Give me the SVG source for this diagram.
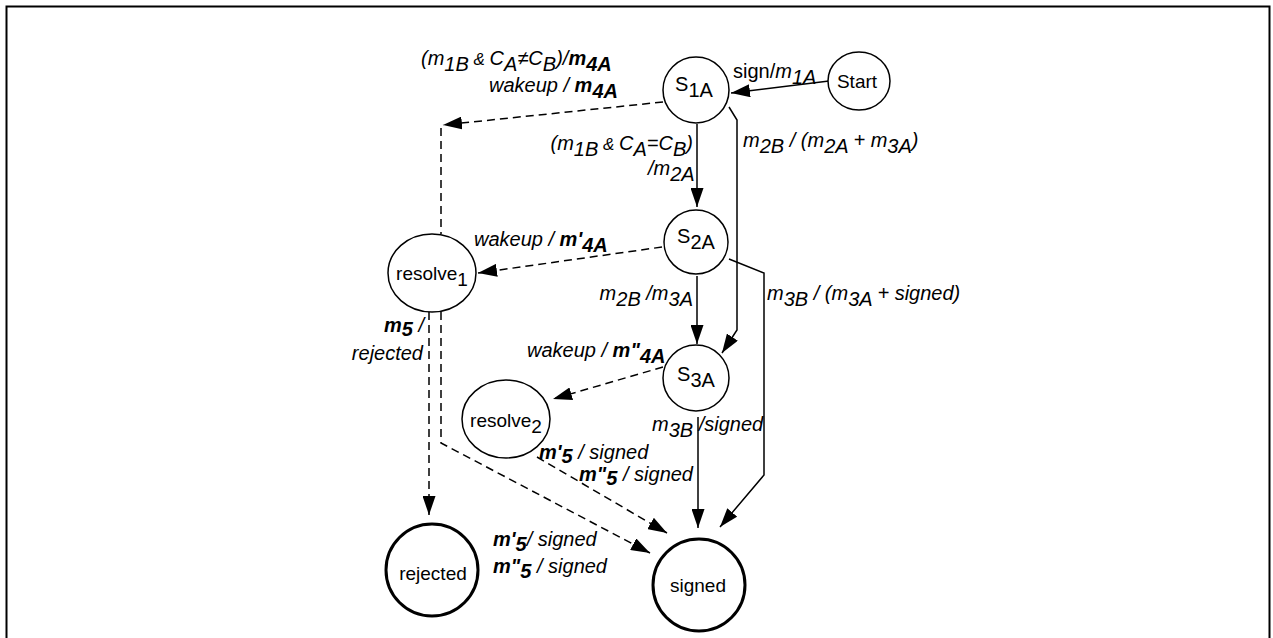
<svg xmlns="http://www.w3.org/2000/svg" width="1273" height="638" viewBox="0 0 1273 638">
<style>
text { font-family: "Liberation Sans", Arial, sans-serif; font-size: 20px; fill: #000; }
.nl { font-size: 19px; }
.it { font-style: italic; }
.b { font-weight: bold; }
.sm { font-size: 17px; }
.node { fill: #fff; stroke: #000; stroke-width: 1.5; }
.final { fill: #fff; stroke: #000; stroke-width: 3; }
.edge { fill: none; stroke: #000; stroke-width: 1.5; }
.dash { stroke-dasharray: 8 5; }
</style>
<defs>
<marker id="ah" markerWidth="19" markerHeight="13" refX="19" refY="6.5" orient="auto" markerUnits="userSpaceOnUse">
<path d="M0,0 L19,6.5 L0,13 z" fill="#000"/>
</marker>
</defs>
<rect x="6.5" y="6.5" width="1263" height="640" fill="#fff" stroke="#000" stroke-width="2"/>

<g id="connectors">
<line class="edge" x1="829" y1="81" x2="731" y2="93" marker-end="url(#ah)"/>
<line class="edge dash" x1="663" y1="102" x2="443" y2="125" marker-end="url(#ah)"/>
<line class="edge dash" x1="441" y1="128" x2="441" y2="234"/>
<line class="edge" x1="697" y1="124" x2="697" y2="207" marker-end="url(#ah)"/>
<polyline class="edge" points="729,107 737,120 737,330 722,353" marker-end="url(#ah)"/>
<line class="edge dash" x1="662" y1="247" x2="478" y2="273" marker-end="url(#ah)"/>
<line class="edge" x1="697" y1="276" x2="697" y2="344" marker-end="url(#ah)"/>
<polyline class="edge" points="729,259 764,273 764,475 720,527" marker-end="url(#ah)"/>
<line class="edge dash" x1="663" y1="367" x2="553" y2="399" marker-end="url(#ah)"/>
<line class="edge" x1="698" y1="417" x2="698" y2="528" marker-end="url(#ah)"/>
<line class="edge dash" x1="429" y1="312" x2="429" y2="515" marker-end="url(#ah)"/>
<polyline class="edge dash" points="441,312 441,443 650,553" marker-end="url(#ah)"/>
<line class="edge dash" x1="537" y1="457" x2="667" y2="533" marker-end="url(#ah)"/>
</g>

<g id="node-start">
<ellipse class="node" cx="859" cy="81" rx="31" ry="29"/>
<text class="nl" x="857" y="88" text-anchor="middle">Start</text>
</g>
<g id="node-s1a">
<circle class="node" cx="696" cy="90" r="33"/>
<text x="694" y="91" text-anchor="middle">S<tspan dy="6">1A</tspan></text>
</g>
<g id="node-s2a">
<circle class="node" cx="696" cy="242" r="32"/>
<text x="696" y="243" text-anchor="middle">S<tspan dy="6">2A</tspan></text>
</g>
<g id="node-s3a">
<circle class="node" cx="696" cy="378" r="33"/>
<text x="696" y="381" text-anchor="middle">S<tspan dy="6">3A</tspan></text>
</g>
<g id="node-resolve1">
<ellipse class="node" cx="432" cy="273" rx="44" ry="39"/>
<text class="nl" x="432" y="280" text-anchor="middle">resolve<tspan dy="6">1</tspan></text>
</g>
<g id="node-resolve2">
<ellipse class="node" cx="506" cy="419" rx="44" ry="39"/>
<text class="nl" x="506" y="427" text-anchor="middle">resolve<tspan dy="6">2</tspan></text>
</g>
<g id="node-rejected">
<circle class="final" cx="432" cy="570" r="46"/>
<text class="nl" x="433" y="580" text-anchor="middle">rejected</text>
</g>
<g id="node-signed">
<circle class="final" cx="699" cy="585" r="46"/>
<text class="nl" x="698" y="592" text-anchor="middle">signed</text>
</g>

<g id="labels">
<text x="733" y="78">sign/<tspan class="it">m</tspan><tspan class="it" dy="6">1A</tspan></text>
<text x="421" y="65" class="it">(m<tspan dy="6">1B</tspan><tspan dy="-6" class="sm"> &amp; </tspan>C<tspan dy="6">A</tspan><tspan dy="-6">≠C</tspan><tspan dy="6">B</tspan><tspan dy="-6">)/</tspan><tspan class="b">m</tspan><tspan class="b" dy="6">4A</tspan></text>
<text x="489" y="92" class="it">wakeup / <tspan class="b">m</tspan><tspan class="b" dy="6">4A</tspan></text>
<text x="693" y="150" class="it" text-anchor="end">(m<tspan dy="6">1B</tspan><tspan dy="-6" class="sm"> &amp; </tspan>C<tspan dy="6">A</tspan><tspan dy="-6">=C</tspan><tspan dy="6">B</tspan><tspan dy="-6">)</tspan></text>
<text x="648" y="175" class="it">/m<tspan dy="6">2A</tspan></text>
<text x="743" y="147" class="it">m<tspan dy="6">2B</tspan><tspan dy="-6"> / (m</tspan><tspan dy="6">2A</tspan><tspan dy="-6"> + m</tspan><tspan dy="6">3A</tspan><tspan dy="-6">)</tspan></text>
<text x="474" y="246" class="it">wakeup / <tspan class="b">m'</tspan><tspan class="b" dy="6">4A</tspan></text>
<text x="693" y="300" class="it" text-anchor="end">m<tspan dy="6">2B</tspan><tspan dy="-6"> /m</tspan><tspan dy="6">3A</tspan></text>
<text x="767" y="300" class="it">m<tspan dy="6">3B</tspan><tspan dy="-6"> / (m</tspan><tspan dy="6">3A</tspan><tspan dy="-6"> + signed)</tspan></text>
<text x="384" y="332" class="it"><tspan class="b">m</tspan><tspan class="b" dy="4">5</tspan><tspan dy="-4"> /</tspan></text>
<text x="423" y="360" class="it" text-anchor="end">rejected</text>
<text x="527" y="357" class="it">wakeup / <tspan class="b">m"</tspan><tspan class="b" dy="6">4A</tspan></text>
<text x="652" y="431" class="it">m<tspan dy="6">3B</tspan><tspan dy="-6"> /signed</tspan></text>
<text x="539" y="459" class="it"><tspan class="b">m'</tspan><tspan class="b" dy="4">5</tspan><tspan dy="-4"> / signed</tspan></text>
<text x="579" y="481" class="it"><tspan class="b">m"</tspan><tspan class="b" dy="4">5</tspan><tspan dy="-4"> / signed</tspan></text>
<text x="493" y="546" class="it"><tspan class="b">m'</tspan><tspan class="b" dy="5">5</tspan><tspan dy="-5">/ signed</tspan></text>
<text x="493" y="573" class="it"><tspan class="b">m"</tspan><tspan class="b" dy="5">5</tspan><tspan dy="-5"> / signed</tspan></text>
</g>
</svg>
